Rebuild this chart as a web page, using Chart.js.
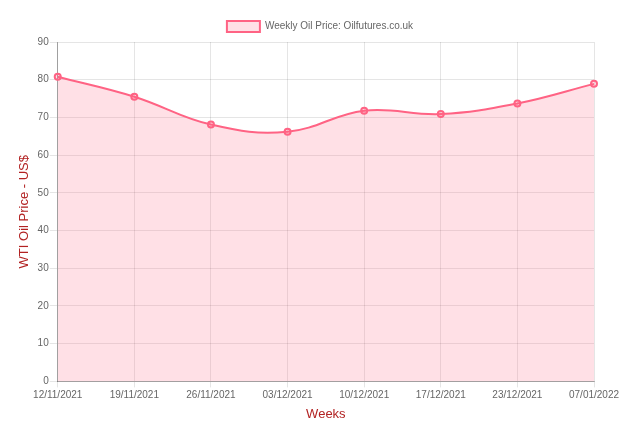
<!DOCTYPE html>
<html>
<head>
<meta charset="utf-8">
<script src="https://cdn.jsdelivr.net/npm/chart.js@4"></script>
<style>
  html, body { margin: 0; padding: 0; background: #fff; }
  #wrap { width: 640px; height: 422px; }
</style>
</head>
<body>
<div id="wrap"><canvas id="chart"></canvas></div>
<script>
const WEEKS = ["12/11/2021", "19/11/2021", "26/11/2021", "03/12/2021", "10/12/2021", "17/12/2021", "23/12/2021", "07/01/2022"];
const PRICES = [80.8, 75.5, 68.1, 66.2, 71.8, 70.9, 73.7, 78.9];

Chart.defaults.font.family = "'Liberation Sans', Arial, sans-serif";
Chart.defaults.color = "#666";

new Chart(document.getElementById("chart").getContext("2d"), {
  type: "line",
  data: {
    labels: WEEKS,
    datasets: [{
      label: "Weekly Oil Price: Oilfutures.co.uk",
      data: PRICES,
      borderColor: "rgb(255,99,132)",
      backgroundColor: "rgba(255,99,132,0.2)",
      borderWidth: 2,
      fill: true,
      tension: 0.4,
      pointRadius: 3,
      pointBorderWidth: 2,
      pointBackgroundColor: "rgba(255,99,132,0.2)",
    }],
  },
  options: {
    responsive: true,
    maintainAspectRatio: false,
    animation: false,
    layout: { padding: { left: 13, right: 13, top: 15, bottom: 0 } },
    plugins: {
      legend: { labels: { boxWidth: 33, boxHeight: 11, padding: 6, font: { size: 10 } } },
    },
    scales: {
      x: {
        ticks: { maxRotation: 0, padding: 2, font: { size: 10 } },
        grid: { color: "rgba(0,0,0,0.1)", tickLength: 6 },
        border: { color: "rgba(0,0,0,0.3)" },
        title: { display: true, text: "Weeks", color: "#b22222", font: { size: 13 }, padding: { top: 3, bottom: 0 } },
      },
      y: {
        min: 0, max: 90,
        ticks: { stepSize: 10, padding: 1, font: { size: 10 } },
        grid: { color: "rgba(0,0,0,0.1)", tickLength: 8 },
        border: { color: "rgba(0,0,0,0.3)" },
        title: { display: true, text: "WTI Oil Price - US$", color: "#b22222", font: { size: 13 } },
      },
      // empty right-hand gutter so the legend stays centred on the canvas
      gutter: {
        position: "right",
        ticks: { display: false },
        grid: { drawOnChartArea: false, display: false },
        border: { display: false },
        afterFit: s => { s.width = 33; },
      },
    },
  },
});
</script>
</body>
</html>
